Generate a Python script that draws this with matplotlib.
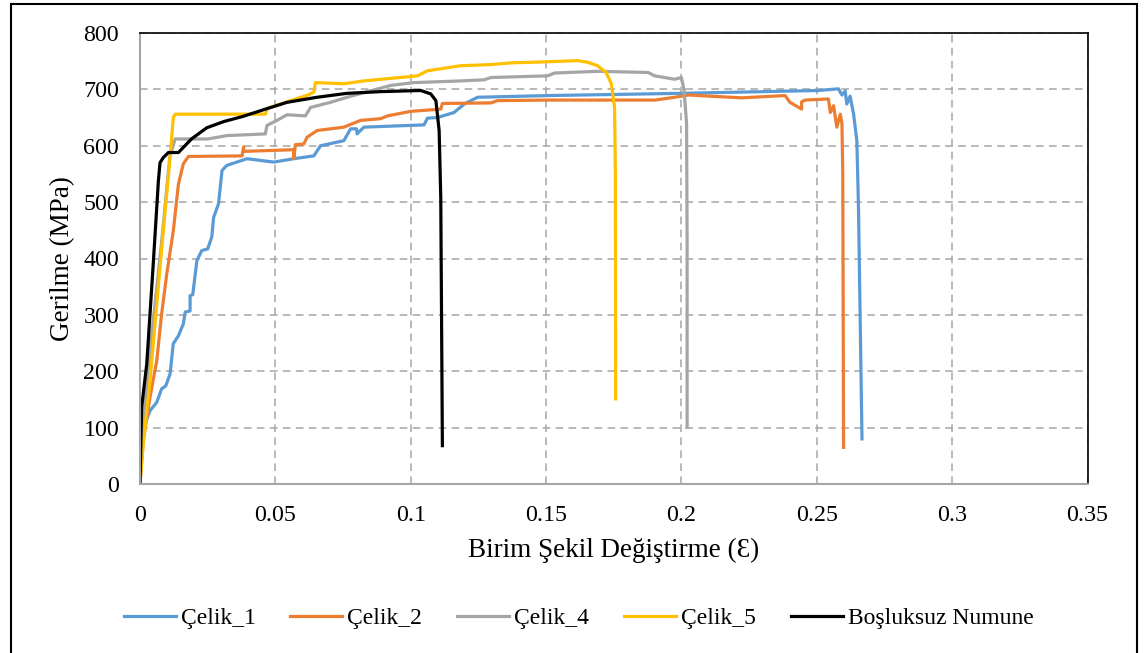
import matplotlib
matplotlib.use("Agg")
import matplotlib.pyplot as plt
from matplotlib.patches import Rectangle

plt.rcParams['font.family'] = ['Liberation Serif', 'DejaVu Serif']

# ---- data ----
celik1_x = [0, 0.0005, 0.0019, 0.0037, 0.0062, 0.008, 0.0095, 0.0111, 0.0123, 0.0142,
            0.016, 0.0167, 0.0185, 0.0185, 0.0195, 0.021, 0.0228, 0.025, 0.0265, 0.0272,
            0.029, 0.0303, 0.032, 0.0395, 0.0494, 0.0568, 0.0642, 0.0667, 0.0753, 0.0778,
            0.08, 0.0802, 0.0827, 0.1049, 0.1062, 0.1099, 0.116, 0.1198, 0.1247, 0.1506,
            0.2, 0.2506, 0.258, 0.2593, 0.2605, 0.2611, 0.2623, 0.2636, 0.2648, 0.2654, 0.2667]
celik1_y = [0, 60, 107, 130, 145, 169, 174, 195, 249, 263,
            284, 305, 307, 334, 336, 396, 414, 417, 438, 473,
            497, 556, 565, 577, 571, 577, 582, 600, 609, 630,
            630, 621, 633, 637, 649, 650, 659, 674, 686, 689,
            693, 698, 701, 690, 697, 674, 688, 656, 609, 491, 80]

celik2_x = [0, 0.0012, 0.0037, 0.0062, 0.008, 0.0099, 0.0123, 0.0142, 0.016, 0.0179,
            0.0377, 0.0383, 0.0383, 0.0568, 0.0568, 0.0574, 0.0605, 0.0617, 0.0654, 0.0753,
            0.0815, 0.0889, 0.0914, 0.1, 0.1111, 0.1117, 0.1296, 0.1321, 0.1506, 0.1901,
            0.1975, 0.2025, 0.2222, 0.2383, 0.2401, 0.2444, 0.2444, 0.2457, 0.2543, 0.255,
            0.2562, 0.2574, 0.2587, 0.2593, 0.2596, 0.2599]
celik2_y = [0, 77, 154, 219, 302, 373, 449, 532, 568, 581,
            582, 598, 590, 593, 577, 602, 603, 615, 627, 633,
            645, 648, 653, 661, 665, 675, 676, 680, 681, 681,
            686, 690, 685, 689, 677, 665, 678, 681, 683, 659,
            671, 633, 656, 639, 550, 65]

celik4_x = [0, 0.001, 0.004, 0.008, 0.011, 0.013, 0.025, 0.0321, 0.0463, 0.0469,
            0.0506, 0.0543, 0.0611, 0.063, 0.0704, 0.0765, 0.0864, 0.0926, 0.1012, 0.1185,
            0.1272, 0.1296, 0.1506, 0.1531, 0.169, 0.1877, 0.1901, 0.1975, 0.2, 0.201,
            0.2019, 0.2021, 0.2021]
celik4_y = [0, 100, 250, 430, 580, 612, 612, 618, 621, 636,
            645, 655, 653, 668, 677, 686, 699, 707, 712, 715,
            717, 721, 724, 729, 732, 730, 724, 718, 721, 698,
            639, 432, 101]

celik5_x = [0, 0.0012, 0.0037, 0.0062, 0.0086, 0.0111, 0.0123, 0.013, 0.0463, 0.047,
            0.055, 0.062, 0.0642, 0.0648, 0.0753, 0.0827, 0.1025, 0.1062, 0.1185, 0.1296,
            0.137, 0.1506, 0.1617, 0.1654, 0.169, 0.1722, 0.1741, 0.1753, 0.1756, 0.1757]
celik5_y = [0, 72, 183, 320, 449, 579, 650, 656, 656, 666,
            679, 690, 695, 712, 710, 715, 724, 733, 742, 744,
            747, 749, 751, 748, 742, 730, 710, 668, 550, 151]

bosluksuz_x = [0, 0.0006, 0.0025, 0.0049, 0.0068, 0.0074, 0.0086, 0.0105, 0.0142, 0.019,
               0.0247, 0.031, 0.038, 0.0457, 0.0543, 0.0654, 0.0765, 0.0889, 0.1037, 0.1074,
               0.1093, 0.1105, 0.1111, 0.1117]
bosluksuz_y = [0, 136, 213, 391, 538, 570, 579, 588, 588, 612,
               632, 643, 652, 664, 677, 686, 693, 696, 698, 692,
               680, 627, 508, 68]

series_names = ['Çelik_1', 'Çelik_2', 'Çelik_4', 'Çelik_5', 'Boşluksuz Numune']
series_colors = ['#5B9BD5', '#ED7D31', '#A5A5A5', '#FFC000', '#000000']
x_ticks = [0, 0.05, 0.1, 0.15, 0.2, 0.25, 0.3, 0.35]
x_ticklabels = ['0', '0.05', '0.1', '0.15', '0.2', '0.25', '0.3', '0.35']
y_ticks = [0, 100, 200, 300, 400, 500, 600, 700, 800]

# ---- figure ----
W, H = 1144, 653
fig = plt.figure(figsize=(W / 100, H / 100), dpi=100)
ax = fig.add_axes([140 / W, 1 - 484 / H, (1087.5 - 140) / W, (484 - 33) / H])

data = [(celik1_x, celik1_y), (celik2_x, celik2_y), (celik4_x, celik4_y),
        (celik5_x, celik5_y), (bosluksuz_x, bosluksuz_y)]
for (xs, ys), name, col in zip(data, series_names, series_colors):
    ax.plot(xs, ys, color=col, lw=2.3, label=name, solid_joinstyle='round')

ax.set_xlim(0, 0.35)
ax.set_ylim(0, 800)
ax.set_xticks(x_ticks)
ax.set_xticklabels(x_ticklabels)
ax.set_yticks(y_ticks)
ax.tick_params(axis='both', length=0, labelsize=17.3)
ax.tick_params(axis='x', pad=15)
ax.tick_params(axis='y', pad=15)
ax.grid(True, color='#A6A6A6', linestyle=(0, (5, 3.5)), lw=1.1)
ax.set_axisbelow(True)
for s in ['left', 'bottom']:
    ax.spines[s].set_color('#A6A6A6')
    ax.spines[s].set_linewidth(1.5)
for s in ['top', 'right']:
    ax.spines[s].set_color('#000000')
    ax.spines[s].set_linewidth(1.2)

ax.set_xlabel('Birim Şekil Değiştirme (Ɛ)', fontsize=19.5, labelpad=9)
ax.set_ylabel('Gerilme (MPa)', fontsize=19.5, labelpad=6)

leg = fig.legend(loc='center', bbox_to_anchor=(578.5 / W, 1 - 618 / H), ncol=5,
                 frameon=False, fontsize=17, handlelength=2.2, handletextpad=0.21,
                 columnspacing=1.48)

fig.patches.append(Rectangle((11 / W, -0.05), (1137 - 11) / W, 1.05 - 3.5 / H,
                             transform=fig.transFigure, fill=False,
                             edgecolor='black', lw=1.5, clip_on=False))

fig.savefig('out.png', dpi=100)
